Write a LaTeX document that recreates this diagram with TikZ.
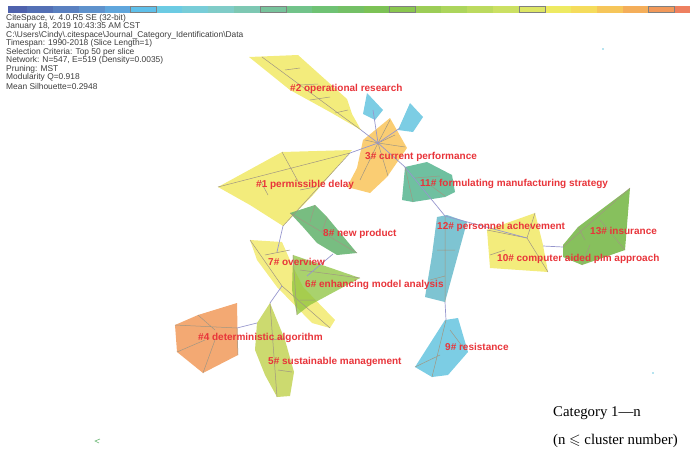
\documentclass[tikz,border=0pt]{standalone}
\usepackage{fontspec}
\usepackage{amssymb}
\setmainfont{Liberation Serif}
\setsansfont{Liberation Sans}
\usepackage{xcolor}
\usepackage{tikz}
\usetikzlibrary{positioning}
\definecolor{labelred}{RGB}{232, 52, 58}
\definecolor{linkblue}{RGB}{150, 150, 205}
\definecolor{twig}{RGB}{160, 150, 130}
\definecolor{headgray}{RGB}{60, 60, 60}
\definecolor{ylw}{RGB}{242, 234, 110}
\definecolor{orng}{RGB}{250, 200, 100}
\definecolor{cyn}{RGB}{110, 200, 225}
\definecolor{teal}{RGB}{95, 185, 150}
\definecolor{grn}{RGB}{105, 182, 115}
\definecolor{lime}{RGB}{140, 195, 60}
\definecolor{peach}{RGB}{242, 160, 100}
\definecolor{olive}{RGB}{198, 214, 95}
\definecolor{sky}{RGB}{112, 190, 205}
\definecolor{leaf}{RGB}{122, 185, 75}

\tikzset{
  cluster/.style={draw=none, fill=#1, opacity=0.9},
  link/.style={draw=linkblue, line width=0.7pt},
  branch/.style={draw=twig, line width=0.5pt},
  clabel/.style={labelred, font=\sffamily\bfseries\fontsize{10}{11}\selectfont, anchor=west, inner sep=0pt},
  headline/.style={headgray, font=\sffamily\fontsize{8.4}{9}\selectfont, anchor=west, inner sep=0pt},
  legend/.style={anchor=west, inner sep=0pt, font=\fontsize{14.8}{16}\selectfont}
}

\begin{document}
\begin{tikzpicture}[x=1pt, y=-1pt]
    \useasboundingbox (0,0) rectangle (690,452);

    % Colour bar
    \begin{scope}
        \clip (8,6) rectangle (690,13);
        \foreach \c [count=\k from 0] in {4f62ad,5470b5,5a80c0,5f92cc,60a6dc,5fc0ea,6ccbe3,78cdd8,80ccc8,7ec8b3,78c39c,72c38a,6fc274,74c066,7cc256,8ac74f,9ccd57,acd55c,bcda5f,cbe063,dde665,eeea62,f5dc5c,f6c65a,f4ae5a,f2995a,ee8060}{
            \definecolor{barcol}{HTML}{\c}
            \fill[barcol] (1.1+\k*25.9,6) rectangle (1.1+\k*25.9+25.9,13);
        }
    \end{scope}
    \foreach \k in {5,10,15,20,25}
        \draw[gray, line width=0.6pt] (1.1+\k*25.9,6.3) rectangle (1.1+\k*25.9+25.9,12.7);

    % Header
    \node[headline] (h1) at (6,18) {CiteSpace, v. 4.0.R5 SE (32-bit)};
    \node[headline] (h2) at (6,26.5) {January 18, 2019 10:43:35 AM CST};
    \node[headline] (h3) at (6,35) {C:\textbackslash Users\textbackslash Cindy\textbackslash .citespace\textbackslash Journal\_Category\_Identification\textbackslash Data};
    \node[headline] (h4) at (6,43.5) {Timespan: 1990-2018 (Slice Length=1)};
    \node[headline] (h5) at (6,52) {Selection Criteria: Top 50 per slice};
    \node[headline] (h6) at (6,60.5) {Network: N=547, E=519 (Density=0.0035)};
    \node[headline] (h7) at (6,69) {Pruning: MST};
    \node[headline] (h8) at (6,77.5) {Modularity Q=0.918};
    \node[headline] (h9) at (6,86) {Mean Silhouette=0.2948};

    % Cluster polygons
    \draw[cluster=ylw] (249,57) -- (298,55) -- (347,99) -- (352,114) -- (361,130) -- (330,112) -- (290,90) -- cycle;
    \draw[cluster=cyn] (367,93) -- (383,110) -- (375,120) -- (363,114) -- cycle;
    \draw[cluster=cyn] (410,103) -- (423,117) -- (413,132) -- (398,130) -- cycle;
    \draw[cluster=orng] (390,118) -- (407,148) -- (387,177) -- (370,193) -- (347,187) -- (357,168) -- (363,140) -- cycle;
    \draw[cluster=ylw] (218,187) -- (282,152) -- (352,150) -- (313,195) -- (283,226) -- (250,205) -- cycle;
    \draw[cluster=teal] (405,167) -- (427,162) -- (452,175) -- (455,192) -- (445,197) -- (413,202) -- (402,200) -- cycle;
    \draw[cluster=grn] (290,213) -- (315,205) -- (327,217) -- (357,253) -- (337,255) -- (317,243) -- (303,227) -- cycle;
    \draw[cluster=ylw, opacity=0.85] (250,240) -- (282,242) -- (293,267) -- (303,287) -- (335,320) -- (330,328) -- (312,323) -- (277,287) -- (257,260) -- cycle;
    \draw[cluster=lime, opacity=0.75] (293,255) -- (360,278) -- (310,305) -- (297,315) -- (292,290) -- cycle;
    \draw[cluster=peach] (175,325) -- (198,315) -- (237,303) -- (238,355) -- (203,373) -- (177,352) -- cycle;
    \draw[cluster=olive] (270,303) -- (285,340) -- (294,372) -- (290,396) -- (277,397) -- (265,375) -- (255,350) -- (257,323) -- cycle;
    \draw[cluster=sky] (437,217) -- (447,215) -- (467,222) -- (445,302) -- (425,297) -- (432,255) -- cycle;
    \draw[cluster=cyn] (445,320) -- (458,318) -- (468,352) -- (448,375) -- (432,377) -- (415,367) -- cycle;
    \draw[cluster=ylw] (487,230) -- (535,213) -- (543,245) -- (548,272) -- (490,268) -- cycle;
    \draw[cluster=leaf] (563,245) -- (578,227) -- (630,188) -- (625,250) -- (582,265) -- (563,257) -- cycle;

    % Hubs
    \coordinate (c2) at (361,130);
    \coordinate (c3) at (378,143);
    \coordinate (cy1) at (373,110);
    \coordinate (cy2) at (400,128);
    \coordinate (c1) at (350,153);
    \coordinate (c11) at (405,167);
    \coordinate (c12) at (445,216);
    \coordinate (c12b) at (445,302);
    \coordinate (c10) at (527,238);
    \coordinate (c10b) at (543,246);
    \coordinate (c13) at (563,247);
    \coordinate (c9) at (446,320);
    \coordinate (c1b) at (283,226);
    \coordinate (c7) at (277,252);
    \coordinate (c7b) at (307,276);
    \coordinate (c8) at (333,254);
    \coordinate (c7c) at (282,286);
    \coordinate (c5) at (270,303);
    \coordinate (c5b) at (257,323);
    \coordinate (c4) at (237,328);

    % Branches inside clusters
    \draw[branch] (262,57) -- (c2);
    \draw[branch] (285,70) -- (300,68) (300,85) -- (318,84) (310,100) -- (330,97) (335,113) -- (348,110);
    \foreach \p in {(390,120),(405,147),(388,176),(360,180),(365,140),(395,135)}
        \draw[branch] (c3) -- \p;
    \draw[branch] (c1) -- (218,187) (282,152) -- (300,185) (260,180) -- (268,195) (c1) -- (c1b) (300,190) -- (315,187);
    \draw[branch] (405,167) -- (413,202) (415,178) -- (440,176) (430,185) -- (445,196);
    \draw[branch] (290,213) -- (357,253) (315,205) -- (310,222) (327,217) -- (322,232);
    \draw[branch] (250,240) -- (c7c) (265,255) -- (290,250) (c7c) -- (330,328) (300,300) -- (315,300);
    \draw[branch] (293,255) -- (297,315) (300,270) -- (360,278);
    \draw[branch] (175,325) -- (c4) (198,315) -- (215,330) (c4) -- (238,355) (203,373) -- (215,340) (177,352) -- (205,340);
    \draw[branch] (c5) -- (277,397) (272,340) -- (285,338) (278,370) -- (292,372);
    \draw[branch] (c12) -- (c12b) (437,250) -- (455,250) (430,280) -- (445,276);
    \draw[branch] (c9) -- (432,377) (450,330) -- (465,350) (440,355) -- (415,367);
    \draw[branch] (487,230) -- (c10) (535,213) -- (527,238) (c10) -- (548,272) (490,255) -- (505,250);
    \draw[branch] (c13) -- (630,188) (578,227) -- (585,240) (600,220) -- (625,250) (582,265) -- (590,245);

    % Links between clusters
    \draw[link] (c2) -- (c3);
    \draw[link] (c3) -- (cy1);
    \draw[link] (c3) -- (cy2);
    \draw[link] (c3) -- (c1);
    \draw[link] (c3) -- (c11);
    \draw[link] (c11) -- (c12);
    \draw[link] (c12) -- (c10);
    \draw[link] (c10b) -- (c13);
    \draw[link] (c12b) -- (c9);
    \draw[link] (c1b) -- (c7);
    \draw[link] (c7b) -- (c8);
    \draw[link] (c7c) -- (c5);
    \draw[link] (c5b) -- (c4);

    % Stray points
    \draw[grn, line width=0.6pt] (100,439) -- (95,441) -- (99,443);
    \fill[cyn] (603,49) circle (0.8);
    \fill[cyn] (653,373) circle (0.8);

    % Cluster labels
    \node[clabel] (l2) at (290,89) {\#2 operational research};
    \node[clabel] (l3) at (365,157) {3\# current performance};
    \node[clabel] (l1) at (256,185) {\#1 permissible delay};
    \node[clabel] (l11) at (420,184) {11\# formulating manufacturing strategy};
    \node[clabel] (l8) at (323,234) {8\# new product};
    \node[clabel] (l12) at (437,227) {12\# personnel achevement};
    \node[clabel] (l13) at (590,231) {13\# insurance};
    \node[clabel] (l10) at (497,259) {10\# computer aided plm approach};
    \node[clabel] (l7) at (268,262) {7\# overview};
    \node[clabel] (l6) at (305,285) {6\# enhancing model analysis};
    \node[clabel] (l4) at (198,338) {\#4 deterministic algorithm};
    \node[clabel] (l5) at (268,362) {5\# sustainable management};
    \node[clabel] (l9) at (445,347) {9\# resistance};

    % Legend
    \node[legend] (cat) at (553,413) {Category 1---n};
    \node[legend] (num) at (553,441) {(n $\leqslant$ cluster number)};
\end{tikzpicture}
\end{document}
